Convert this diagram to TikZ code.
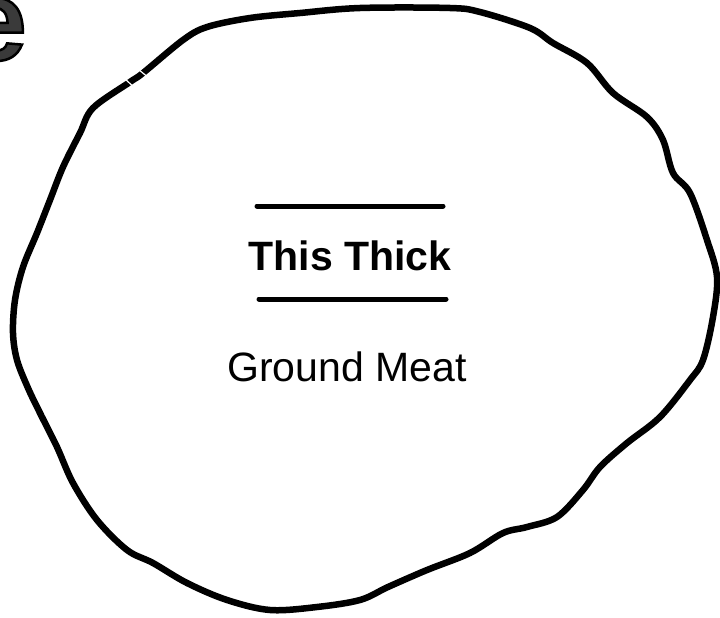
\documentclass[tikz,border=0pt]{standalone}
\usepackage{fontspec}
\setmainfont{Liberation Sans}
\definecolor{LetterGray}{HTML}{3A3A3A}
% outlined glyphs: fill and stroke
\newcommand{\outlined}[1]{\special{pdf:literal direct 2 Tr 2.5 w 0 0 0 RG}#1\special{pdf:literal direct 0 Tr}}

\begin{document}
\begin{tikzpicture}[x=1pt, y=-1pt,
        every node/.style={inner sep=0pt, font=\fontsize{41}{41}\selectfont},
        blob/.style={line width=6.5pt, line join=round},
        rule/.style={line width=5pt, line cap=round}]
        \useasboundingbox (0,0) rectangle (720,618);
        % cropped letter in the corner
        \node[anchor=base east, text=LetterGray, font=\bfseries\fontsize{115}{115}\selectfont] (cut) at (27,60)
            {\outlined{e}};
        % outline of the patty
        \draw[blob] plot[smooth cycle, tension=0.55] coordinates {
            (93,108) (130,82) (143,73) (183,40) (207,27) (250,18) (300,13) (360,8)
            (450,8) (480,12) (530,28) (553,43) (587,63) (613,93) (647,117) (663,140)
            (673,173) (690,193) (707,240) (717,277) (713,317) (703,360) (690,380)
            (660,417) (627,443) (600,467) (583,490) (557,517) (527,527) (503,533)
            (470,553) (427,570) (388,587) (360,600) (317,607) (270,610) (227,600)
            (187,583) (153,563) (127,550) (97,520) (73,483) (57,447) (40,413)
            (28,388) (17,360) (13,333) (15,300) (23,267) (37,233) (50,200) (63,167)
            (80,133)};
        % cracks in the outline
        \draw[white, line width=1.2pt] (138,69) -- (150,79);
        \draw[white, line width=1.2pt] (125,79) -- (136,89);
        % thickness mark
        \draw[rule] (257,206) -- (443,206);
        \node[font=\bfseries\fontsize{41}{41}\selectfont, anchor=base] (thick) at (350,270) {This Thick};
        \draw[rule] (259,299) -- (446,299);
        \node[anchor=base] (meat) at (347,381) {Ground Meat};
\end{tikzpicture}
\end{document}
